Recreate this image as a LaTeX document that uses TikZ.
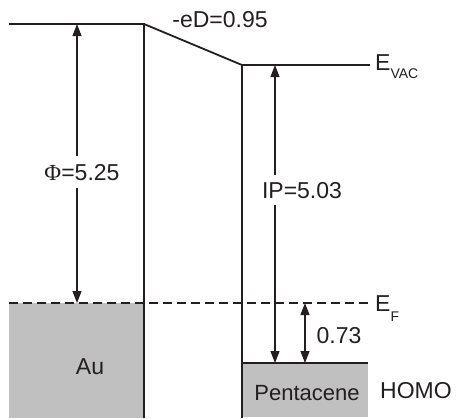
\documentclass[tikz,border=0pt]{standalone}
\usepackage{fontspec}
\setmainfont{Liberation Sans}
\newfontfamily\symfont{Liberation Serif}
\usetikzlibrary{arrows.meta}
\definecolor{ink}{RGB}{35,31,32}
\definecolor{boxgray}{RGB}{192,192,192}
\begin{document}
\begin{tikzpicture}[x=1pt,y=-1pt,
  level/.style={draw=ink,line width=1.8pt},
  dashlevel/.style={draw=ink,line width=1.6pt,dash pattern=on 9pt off 5pt},
  gap/.style={draw=ink,line width=1.2pt,{Triangle[length=12pt,width=9pt]}-{Triangle[length=12pt,width=9pt]}},
  lbl/.style={inner sep=0pt,anchor=base,text=ink,font=\fontsize{23}{27}\selectfont},
  cutlbl/.style={lbl,fill=white,inner xsep=1pt,inner ysep=8pt,text height=16pt,text depth=0pt}
]
\useasboundingbox (0,0) rectangle (457,418);
% coordinates
\coordinate (auL) at (9,24);
\coordinate (auR) at (144,24);
\coordinate (auB) at (144,418);
\coordinate (vac) at (242,65);
\coordinate (vacE) at (370,65);
\coordinate (pB) at (242,418);
\coordinate (efL) at (9,303);
\coordinate (efR) at (368,303);
\coordinate (hoL) at (242,363);
\coordinate (hoR) at (368,363);
\coordinate (phiT) at (77,24);
\coordinate (phiB) at (77,303);
\coordinate (ipT) at (275,65);
\coordinate (ipB) at (275,363);
\coordinate (dT) at (305,303);
\coordinate (dB) at (305,363);
% filled regions
\fill[boxgray] (9,303) rectangle (144,418);
\fill[boxgray] (242,363) rectangle (368,417);
% levels
\draw[level] (auL) -- (auR) -- (auB);
\draw[level] (auR) -- (vac);
\draw[level] (pB) -- (vac) -- (vacE);
\draw[level] (hoL) -- (hoR);
\draw[dashlevel] (efL) -- (efR);
% arrows
\draw[gap] (phiT) -- (phiB);
\draw[gap] (ipT) -- (ipB);
\draw[gap] (dT) -- (dB);
% labels
\node[cutlbl] (phi) at (82,180) {{\symfont Φ}=5.25};
\node[cutlbl,inner ysep=7pt] (ip) at (302,198) {IP=5.03};
\node[lbl] (ed) at (220,27) {-eD=0.95};
\node[lbl,anchor=base west] (evac) at (375,70) {E\raisebox{-8pt}{\fontsize{14}{14}\selectfont VAC}};
\node[lbl,anchor=base west] (ef) at (375,311) {E\raisebox{-10pt}{\fontsize{14}{14}\selectfont F}};
\node[lbl] (d) at (339,343) {0.73};
\node[lbl] (au) at (90,374) {Au};
\node[lbl,font=\fontsize{22}{26}\selectfont] (pent) at (307,400) {Pentacene};
\node[lbl] (homo) at (416,398) {HOMO};
\end{tikzpicture}
\end{document}
